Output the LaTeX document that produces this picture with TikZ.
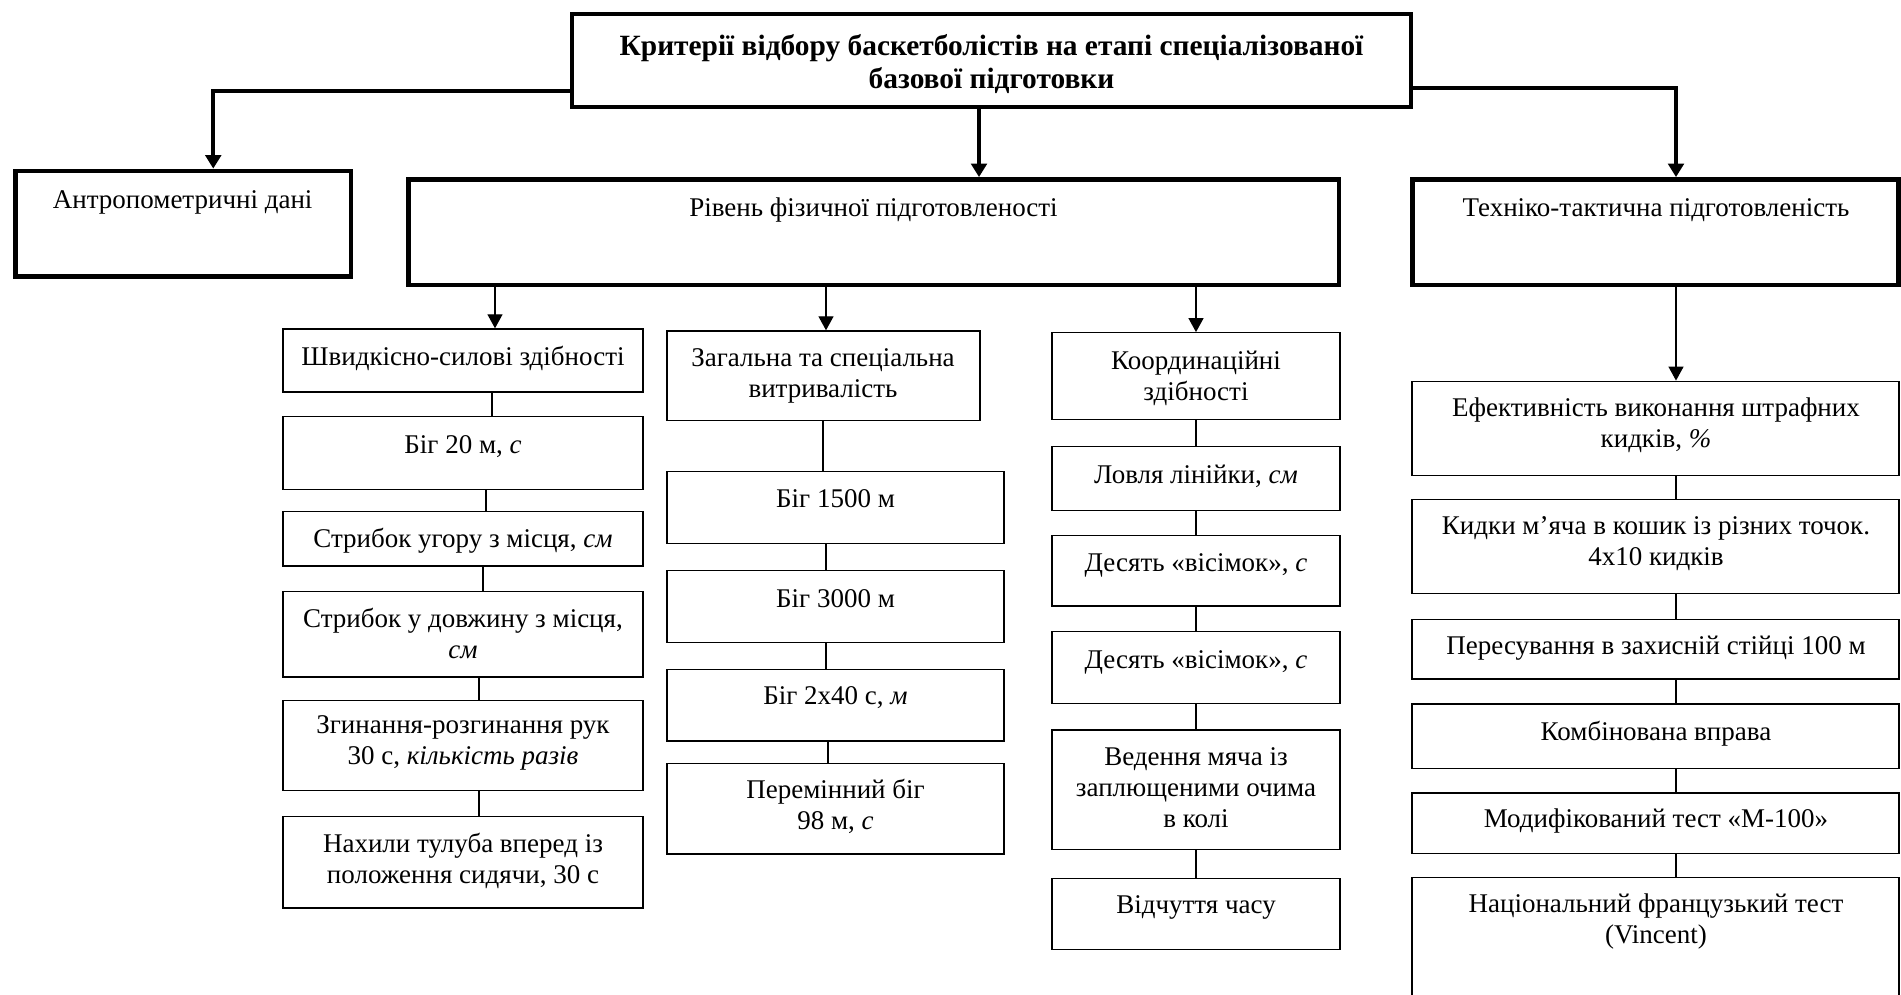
\documentclass[tikz,border=0pt]{standalone}
\usepackage{fontspec}
\setmainfont{Liberation Serif}
\usetikzlibrary{arrows.meta}
\newcommand\fsn{\fontsize{13.5pt}{15.5pt}\selectfont}
\newcommand\fst{\fontsize{14.7pt}{16.6pt}\selectfont\bfseries}
\tikzset{
  tbox/.style={draw, line width=2.35pt, inner sep=0pt, outer sep=0pt},
  ibox/.style={draw, line width=0.65pt, inner sep=0pt, outer sep=0pt},
  ntxt/.style={inner sep=0pt, outer sep=0pt, anchor=north, align=center, font=\fsn},
  ttxt/.style={inner sep=0pt, outer sep=0pt, anchor=north, align=center, font=\fst},
  tarrow/.style={line width=2pt, -{Triangle[length=6.75pt,width=7.8pt]}, shorten >=1.2pt},
  iarrow/.style={line width=0.65pt, -{Triangle[length=7pt,width=7.5pt]}, shorten >=0.3pt},
  conn/.style={line width=0.65pt},
}
\begin{document}
\begin{tikzpicture}[x=0.5pt,y=-0.5pt]
\useasboundingbox (0,0) rectangle (1901,995);
\fill[white] (0,0) rectangle (1901,995);
\clip (0,0) rectangle (1901,995);

% top level boxes
\node[tbox, minimum width=419.5pt, minimum height=46.5pt] (top) at (991.5,60.5) {};
\node[ttxt] (ttop) at (991.5,32.5) {\strut Критерії відбору баскетболістів на етапі спеціалізованої\\базової підготовки};
\node[tbox, minimum width=167.75pt, minimum height=52.75pt] (ant) at (183.25,223.75) {};
\node[ntxt] (tant) at (182.7,186.6) {\strut Антропометричні дані};
\node[tbox, minimum width=465.25pt, minimum height=52.75pt] (riv) at (873.75,232.25) {};
\node[ntxt] (triv) at (873.5,195) {\strut Рівень фізичної підготовленості};
\node[tbox, minimum width=243pt, minimum height=52.75pt] (tech) at (1655.5,232.25) {};
\node[ntxt] (ttech) at (1656,194.3) {\strut Техніко-тактична підготовленість};

% left column
\node[ibox, minimum width=180pt, minimum height=31.5pt] (s0) at (463,360.4) {};
\node[ntxt] (ts0) at (463,343.3) {\strut Швидкісно-силові здібності};
\node[ibox, minimum width=180pt, minimum height=36.25pt] (s1) at (463,453.05) {};
\node[ntxt] (ts1) at (463,431.6) {\strut Біг 20 м, \textit{с}};
\node[ibox, minimum width=180pt, minimum height=27.35pt] (s2) at (463,538.65) {};
\node[ntxt] (ts2) at (463,525.7) {\strut Стрибок угору з місця, \textit{см}};
\node[ibox, minimum width=180pt, minimum height=42.7pt] (s3) at (463,634.4) {};
\node[ntxt] (ts3) at (463,605.7) {\strut Стрибок у довжину з місця,\\\textit{см}};
\node[ibox, minimum width=180pt, minimum height=44.95pt] (s4) at (463,745.75) {};
\node[ntxt] (ts4) at (463,712.2) {\strut Згинання-розгинання рук\\30 с, \textit{кількість разів}};
\node[ibox, minimum width=180pt, minimum height=45.6pt] (s5) at (463,862.4) {};
\node[ntxt] (ts5) at (463,830.4) {\strut Нахили тулуба вперед із\\положення сидячи, 30 с};

% middle column
\node[ibox, minimum width=156.5pt, minimum height=44.75pt] (g0) at (823.5,375.65) {};
\node[ntxt] (tg0) at (823,344.4) {\strut Загальна та спеціальна\\витривалість};
\node[ibox, minimum width=168.5pt, minimum height=36pt] (g1) at (835.5,507.3) {};
\node[ntxt] (tg1) at (835.5,486) {\strut Біг 1500 м};
\node[ibox, minimum width=168.5pt, minimum height=36pt] (g2) at (835.5,606.8) {};
\node[ntxt] (tg2) at (835.5,585.5) {\strut Біг 3000 м};
\node[ibox, minimum width=168.5pt, minimum height=35.8pt] (g3) at (835.5,705.3) {};
\node[ntxt] (tg3) at (835.5,683.1) {\strut Біг 2х40 с, \textit{м}};
\node[ibox, minimum width=168.5pt, minimum height=45.35pt] (g4) at (835.5,808.65) {};
\node[ntxt] (tg4) at (835.5,776.8) {\strut Перемінний біг\\98 м, \textit{с}};

% right-middle column
\node[ibox, minimum width=144pt, minimum height=43.5pt] (k0) at (1196,376.2) {};
\node[ntxt] (tk0) at (1196,347.6) {\strut Координаційні\\здібності};
\node[ibox, minimum width=144pt, minimum height=32.15pt] (k1) at (1196,478.65) {};
\node[ntxt] (tk1) at (1196,461.4) {\strut Ловля лінійки, \textit{см}};
\node[ibox, minimum width=144pt, minimum height=35.25pt] (k2) at (1196,570.65) {};
\node[ntxt] (tk2) at (1196,549.4) {\strut Десять «вісімок», \textit{с}};
\node[ibox, minimum width=144pt, minimum height=35.7pt] (k3) at (1196,667.5) {};
\node[ntxt] (tk3) at (1196,646.7) {\strut Десять «вісімок», \textit{с}};
\node[ibox, minimum width=144pt, minimum height=59.6pt] (k4) at (1196,789.6) {};
\node[ntxt] (tk4) at (1196,744) {\strut Ведення мяча із\\заплющеними очима\\в колі};
\node[ibox, minimum width=144pt, minimum height=35.7pt] (k5) at (1196,913.9) {};
\node[ntxt] (tk5) at (1196,892.2) {\strut Відчуття часу};

% right column
\node[ibox, minimum width=243.5pt, minimum height=47pt] (e0) at (1655.5,428.2) {};
\node[ntxt] (te0) at (1656,395.1) {\strut Ефективність виконання штрафних\\кидків, \textit{\%}};
\node[ibox, minimum width=243.5pt, minimum height=46.95pt] (e1) at (1655.5,546.75) {};
\node[ntxt] (te1) at (1656,512.3) {\strut Кидки м’яча в кошик із різних точок.\\4х10 кидків};
\node[ibox, minimum width=243.5pt, minimum height=29.65pt] (e2) at (1655.5,649.35) {};
\node[ntxt] (te2) at (1656,633.1) {\strut Пересування в захисній стійці 100 м};
\node[ibox, minimum width=243.5pt, minimum height=32.35pt] (e3) at (1655.5,736.45) {};
\node[ntxt] (te3) at (1656,718.9) {\strut Комбінована вправа};
\node[ibox, minimum width=243.5pt, minimum height=30.3pt] (e4) at (1655.5,823.3) {};
\node[ntxt] (te4) at (1656,805.5) {\strut Модифікований тест «М-100»};
\node[ibox, minimum width=243.5pt, minimum height=66.3pt] (e5) at (1655.5,943.7) {};
\node[ntxt] (te5) at (1656,891.2) {\strut Національний французький тест\\(Vincent)};

% thick connectors
\draw[tarrow] ([yshift=8pt]top.south west) -| ([xshift=15pt]ant.north);
\draw[tarrow] ([yshift=9.35pt]top.south east) -| ([xshift=10.25pt]tech.north);
\draw[tarrow] ([xshift=-6.25pt]top.south) -- ([xshift=-6.25pt]top.south |- riv.north);

% thin arrows
\draw[iarrow] ([xshift=16pt]s0.north |- riv.south) -- ([xshift=16pt]s0.north);
\draw[iarrow] ([xshift=1.25pt]g0.north |- riv.south) -- ([xshift=1.25pt]g0.north);
\draw[iarrow] (k0.north |- riv.south) -- (k0.north);
\draw[iarrow] ([xshift=10.25pt]tech.south) -- ([xshift=10.25pt]e0.north);

% column connectors
\draw[conn] ([xshift=14.5pt]s0.south) -- ([xshift=14.5pt]s1.north);
\draw[conn] ([xshift=11.5pt]s1.south) -- ([xshift=11.5pt]s2.north);
\draw[conn] ([xshift=10pt]s2.south) -- ([xshift=10pt]s3.north);
\draw[conn] ([xshift=8pt]s3.south) -- ([xshift=8pt]s4.north);
\draw[conn] ([xshift=8pt]s4.south) -- ([xshift=8pt]s5.north);

\draw[conn] ([xshift=-0.25pt]g0.south) -- ([xshift=-0.25pt]g0.south |- g1.north);
\draw[conn] ([xshift=-4.75pt]g1.south) -- ([xshift=-4.75pt]g2.north);
\draw[conn] ([xshift=-4.75pt]g2.south) -- ([xshift=-4.75pt]g3.north);
\draw[conn] ([xshift=-3.75pt]g3.south) -- ([xshift=-3.75pt]g4.north);

\draw[conn] (k0.south) -- (k1.north);
\draw[conn] (k1.south) -- (k2.north);
\draw[conn] (k2.south) -- (k3.north);
\draw[conn] (k3.south) -- (k4.north);
\draw[conn] (k4.south) -- (k5.north);

\draw[conn] ([xshift=10.25pt]e0.south) -- ([xshift=10.25pt]e1.north);
\draw[conn] ([xshift=10.25pt]e1.south) -- ([xshift=10.25pt]e2.north);
\draw[conn] ([xshift=10.25pt]e2.south) -- ([xshift=10.25pt]e3.north);
\draw[conn] ([xshift=10.25pt]e3.south) -- ([xshift=10.25pt]e4.north);
\draw[conn] ([xshift=10.25pt]e4.south) -- ([xshift=10.25pt]e5.north);
\end{tikzpicture}
\end{document}
